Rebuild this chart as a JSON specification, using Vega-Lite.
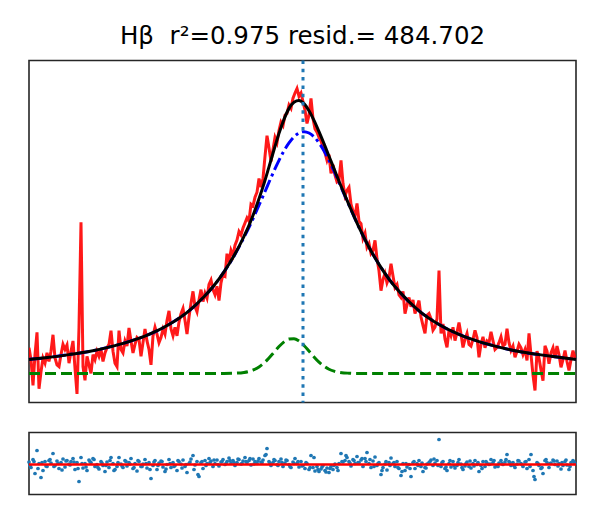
{
"$schema":"https://vega.github.io/schema/vega-lite/v6.json",
"padding":{"left":22,"top":23.5,"right":23,"bottom":31},
"title":{"text":"Hβ\u00a0\u00a0r²=0.975 resid.= 484.702","font":"DejaVu Sans","fontSize":24.5,"fontWeight":"normal","color":"#000000","anchor":"middle","offset":8.5},
"config":{"view":{"stroke":"#262626","strokeWidth":1.6},"concat":{"spacing":26},"axis":{"disable":true}},
"spacing":26,
"datasets":{
"spec":[
{"x":30,"f":16.0,"r":2.5},{"x":32,"f":12.5,"r":-3.0},{"x":34,"f":5.0,"r":5.0},{"x":36,"f":14.0,"r":-9.0},{"x":38,"f":20.5,"r":14.0},{"x":40,"f":4.0,"r":1.0},{"x":42,"f":9.0,"r":-13.0},{"x":44,"f":13.0,"r":-6.0},{"x":46,"f":11.5,"r":3.0},{"x":48,"f":14.5,"r":-2.0},
{"x":50,"f":12.0,"r":4.0},{"x":52,"f":15.0,"r":1.5},{"x":54,"f":19.8,"r":11.0},{"x":56,"f":13.0,"r":-1.0},{"x":58,"f":11.0,"r":3.5},{"x":60,"f":10.5,"r":-4.0},{"x":62,"f":14.0,"r":2.0},{"x":64,"f":17.0,"r":5.5},{"x":66,"f":15.5,"r":-2.5},{"x":68,"f":16.8,"r":4.0},
{"x":70,"f":11.5,"r":0.5},{"x":72,"f":15.0,"r":3.0},{"x":74,"f":18.0,"r":6.0},{"x":76,"f":10.0,"r":-5.0},{"x":78,"f":2.5,"r":2.0},{"x":80,"f":22.0,"r":-17.0},{"x":82,"f":52.7,"r":7.0},{"x":84,"f":10.5,"r":-3.5},{"x":86,"f":6.5,"r":1.0},{"x":88,"f":13.5,"r":-6.0},
{"x":90,"f":11.0,"r":4.5},{"x":92,"f":8.5,"r":2.0},{"x":94,"f":14.0,"r":6.0},{"x":96,"f":12.5,"r":-2.0},{"x":98,"f":15.0,"r":0.0},{"x":100,"f":13.5,"r":-4.5},{"x":102,"f":15.5,"r":3.0},{"x":104,"f":12.0,"r":-1.0},{"x":106,"f":14.5,"r":-7.0},{"x":108,"f":16.0,"r":2.5},
{"x":110,"f":17.0,"r":-3.0},{"x":112,"f":21.0,"r":7.0},{"x":114,"f":15.0,"r":1.0},{"x":116,"f":11.5,"r":-5.0},{"x":118,"f":10.5,"r":-2.0},{"x":120,"f":21.0,"r":7.0},{"x":122,"f":15.5,"r":0.5},{"x":124,"f":14.5,"r":-3.0},{"x":126,"f":18.0,"r":4.0},{"x":128,"f":16.5,"r":-1.5},
{"x":130,"f":21.8,"r":2.0},{"x":132,"f":18.0,"r":6.0},{"x":134,"f":14.5,"r":-4.0},{"x":136,"f":17.0,"r":1.0},{"x":138,"f":19.0,"r":-6.5},{"x":140,"f":18.5,"r":3.0},{"x":142,"f":13.5,"r":-2.0},{"x":144,"f":17.5,"r":0.5},{"x":146,"f":21.5,"r":5.0},{"x":148,"f":18.0,"r":-3.5},
{"x":150,"f":15.5,"r":2.0},{"x":152,"f":11.0,"r":-14.0},{"x":154,"f":19.5,"r":-1.0},{"x":156,"f":22.0,"r":4.0},{"x":158,"f":20.0,"r":-5.0},{"x":160,"f":17.5,"r":1.5},{"x":162,"f":19.0,"r":3.5},{"x":164,"f":21.5,"r":-2.5},{"x":166,"f":20.0,"r":-7.0},{"x":168,"f":24.0,"r":0.0},
{"x":170,"f":26.8,"r":5.0},{"x":172,"f":21.5,"r":-3.0},{"x":174,"f":19.5,"r":2.0},{"x":176,"f":22.0,"r":-1.0},{"x":178,"f":19.5,"r":-6.0},{"x":180,"f":23.5,"r":3.0},{"x":182,"f":26.0,"r":0.5},{"x":184,"f":27.5,"r":4.5},{"x":186,"f":24.0,"r":-2.0},{"x":188,"f":20.0,"r":-8.0},
{"x":190,"f":25.0,"r":1.0},{"x":192,"f":29.0,"r":5.5},{"x":194,"f":32.5,"r":9.0},{"x":196,"f":28.0,"r":-0.5},{"x":198,"f":26.5,"r":3.0},{"x":200,"f":30.0,"r":-12.0},{"x":202,"f":33.0,"r":2.0},{"x":204,"f":29.5,"r":-4.0},{"x":206,"f":32.0,"r":4.0},{"x":208,"f":30.5,"r":1.0},
{"x":210,"f":34.5,"r":6.0},{"x":212,"f":35.8,"r":3.5},{"x":214,"f":33.0,"r":-2.0},{"x":216,"f":31.5,"r":1.0},{"x":218,"f":34.0,"r":4.5},{"x":220,"f":29.8,"r":-1.5},{"x":222,"f":35.0,"r":2.5},{"x":224,"f":37.5,"r":5.0},{"x":226,"f":37.0,"r":0.0},{"x":228,"f":43.5,"r":3.0},
{"x":230,"f":41.0,"r":6.5},{"x":232,"f":44.5,"r":1.5},{"x":234,"f":43.0,"r":4.0},{"x":236,"f":46.0,"r":-1.0},{"x":238,"f":47.5,"r":2.0},{"x":240,"f":50.0,"r":5.0},{"x":242,"f":49.0,"r":0.5},{"x":244,"f":51.0,"r":3.5},{"x":246,"f":52.5,"r":7.0},{"x":248,"f":54.0,"r":2.0},
{"x":250,"f":53.0,"r":4.0},{"x":252,"f":58.0,"r":-0.5},{"x":254,"f":57.5,"r":5.5},{"x":256,"f":60.0,"r":3.0},{"x":258,"f":61.5,"r":1.0},{"x":260,"f":65.5,"r":6.0},{"x":262,"f":63.0,"r":2.5},{"x":264,"f":65.5,"r":4.5},{"x":266,"f":72.0,"r":9.0},{"x":268,"f":78.0,"r":16.0},
{"x":270,"f":74.5,"r":3.0},{"x":272,"f":70.5,"r":-1.0},{"x":274,"f":74.0,"r":2.0},{"x":276,"f":77.5,"r":4.0},{"x":278,"f":76.0,"r":0.0},{"x":280,"f":79.5,"r":3.0},{"x":282,"f":82.0,"r":5.5},{"x":284,"f":81.0,"r":-2.0},{"x":286,"f":84.0,"r":1.5},{"x":288,"f":84.5,"r":4.0},
{"x":290,"f":87.0,"r":0.0},{"x":292,"f":86.0,"r":-3.0},{"x":294,"f":89.0,"r":2.5},{"x":296,"f":90.5,"r":6.0},{"x":298,"f":91.8,"r":1.0},{"x":300,"f":89.5,"r":-2.5},{"x":302,"f":90.5,"r":3.0},{"x":304,"f":88.0,"r":-1.0},{"x":306,"f":85.5,"r":-4.0},{"x":308,"f":81.6,"r":1.0},
{"x":310,"f":84.0,"r":-5.0},{"x":312,"f":88.9,"r":9.0},{"x":314,"f":83.0,"r":-3.0},{"x":316,"f":80.0,"r":-6.5},{"x":318,"f":79.0,"r":-2.0},{"x":320,"f":77.5,"r":-7.0},{"x":322,"f":76.5,"r":-4.5},{"x":324,"f":74.5,"r":-1.0},{"x":326,"f":73.0,"r":-6.0},{"x":328,"f":70.8,"r":-3.5},
{"x":330,"f":72.5,"r":-8.0},{"x":332,"f":67.0,"r":-2.0},{"x":334,"f":69.5,"r":-5.0},{"x":336,"f":66.5,"r":0.5},{"x":338,"f":64.5,"r":-3.0},{"x":340,"f":65.0,"r":1.0},{"x":342,"f":70.8,"r":11.0},{"x":344,"f":64.0,"r":2.5},{"x":346,"f":60.5,"r":4.0},{"x":348,"f":62.0,"r":7.0},
{"x":350,"f":62.9,"r":3.0},{"x":352,"f":58.0,"r":-1.5},{"x":354,"f":56.0,"r":5.0},{"x":356,"f":54.5,"r":1.0},{"x":358,"f":58.2,"r":8.0},{"x":360,"f":53.0,"r":2.0},{"x":362,"f":52.3,"r":4.5},{"x":364,"f":48.0,"r":-2.0},{"x":366,"f":49.5,"r":6.0},{"x":368,"f":45.4,"r":12.0},
{"x":370,"f":46.5,"r":1.0},{"x":372,"f":43.6,"r":-3.0},{"x":374,"f":44.5,"r":3.5},{"x":376,"f":47.4,"r":7.5},{"x":378,"f":42.0,"r":-1.0},{"x":380,"f":38.5,"r":2.0},{"x":382,"f":32.7,"r":-10.0},{"x":384,"f":36.0,"r":-3.0},{"x":386,"f":37.7,"r":0.5},{"x":388,"f":35.0,"r":-5.5},
{"x":390,"f":36.5,"r":2.0},{"x":392,"f":40.6,"r":6.5},{"x":394,"f":37.0,"r":1.0},{"x":396,"f":33.6,"r":-2.0},{"x":398,"f":34.5,"r":3.0},{"x":400,"f":31.5,"r":-4.0},{"x":402,"f":30.7,"r":-11.0},{"x":404,"f":32.5,"r":1.0},{"x":406,"f":26.0,"r":-6.0},{"x":408,"f":28.5,"r":-2.5},
{"x":410,"f":30.7,"r":0.0},{"x":412,"f":28.0,"r":-12.0},{"x":414,"f":30.0,"r":2.0},{"x":416,"f":26.0,"r":-4.0},{"x":418,"f":28.0,"r":1.0},{"x":420,"f":29.8,"r":4.0},{"x":422,"f":25.0,"r":-2.0},{"x":424,"f":22.5,"r":-7.0},{"x":426,"f":20.2,"r":-3.0},{"x":428,"f":25.5,"r":0.5},
{"x":430,"f":26.0,"r":2.0},{"x":432,"f":24.5,"r":4.5},{"x":434,"f":21.1,"r":-1.0},{"x":436,"f":22.0,"r":1.5},{"x":438,"f":24.5,"r":4.0},{"x":440,"f":38.6,"r":25.0},{"x":442,"f":20.2,"r":-2.0},{"x":444,"f":23.0,"r":3.0},{"x":446,"f":18.5,"r":-4.0},{"x":448,"f":16.1,"r":-6.0},
{"x":450,"f":21.1,"r":1.0},{"x":452,"f":19.5,"r":-2.5},{"x":454,"f":22.0,"r":3.0},{"x":456,"f":18.1,"r":-3.5},{"x":458,"f":20.5,"r":-1.0},{"x":460,"f":23.4,"r":5.0},{"x":462,"f":20.0,"r":0.5},{"x":464,"f":16.1,"r":-5.0},{"x":466,"f":18.5,"r":-1.5},{"x":468,"f":20.2,"r":2.5},
{"x":470,"f":17.0,"r":-2.0},{"x":472,"f":16.5,"r":-3.5},{"x":474,"f":18.5,"r":1.0},{"x":476,"f":21.1,"r":4.0},{"x":478,"f":19.0,"r":0.0},{"x":480,"f":13.2,"r":-7.0},{"x":482,"f":17.0,"r":-1.0},{"x":484,"f":19.2,"r":3.0},{"x":486,"f":16.0,"r":-2.0},{"x":488,"f":18.0,"r":1.5},
{"x":490,"f":17.5,"r":0.0},{"x":492,"f":20.7,"r":5.0},{"x":494,"f":18.0,"r":2.0},{"x":496,"f":15.5,"r":-2.5},{"x":498,"f":16.1,"r":-1.0},{"x":500,"f":17.5,"r":1.5},{"x":502,"f":19.2,"r":4.0},{"x":504,"f":16.5,"r":0.0},{"x":506,"f":17.0,"r":2.5},{"x":508,"f":21.6,"r":10.0},
{"x":510,"f":17.5,"r":3.0},{"x":512,"f":15.2,"r":-1.0},{"x":514,"f":16.5,"r":2.0},{"x":516,"f":13.2,"r":-3.0},{"x":518,"f":15.0,"r":0.5},{"x":520,"f":17.0,"r":3.5},{"x":522,"f":16.0,"r":1.0},{"x":524,"f":14.0,"r":-2.0},{"x":526,"f":15.5,"r":2.5},{"x":528,"f":12.3,"r":-4.0},
{"x":530,"f":20.2,"r":5.0},{"x":532,"f":14.0,"r":10.0},{"x":534,"f":8.0,"r":-6.0},{"x":536,"f":3.5,"r":-15.0},{"x":538,"f":15.0,"r":2.0},{"x":540,"f":13.0,"r":-1.0},{"x":542,"f":9.5,"r":-4.0},{"x":544,"f":6.4,"r":-9.0},{"x":546,"f":16.6,"r":4.0},{"x":548,"f":15.0,"r":2.0},
{"x":550,"f":11.3,"r":-3.0},{"x":552,"f":14.5,"r":1.5},{"x":554,"f":16.0,"r":4.5},{"x":556,"f":13.0,"r":0.0},{"x":558,"f":16.5,"r":3.5},{"x":560,"f":14.0,"r":1.0},{"x":562,"f":10.3,"r":-4.5},{"x":564,"f":12.5,"r":-1.0},{"x":566,"f":15.2,"r":3.0},{"x":568,"f":12.0,"r":-0.5},
{"x":570,"f":9.4,"r":-5.0},{"x":572,"f":12.5,"r":2.0},{"x":574,"f":15.2,"r":4.0},{"x":576,"f":13.0,"r":1.0}
],
"res2":[
{"x":31,"r":-1.0},{"x":35,"r":3.0},{"x":39,"r":-4.0},{"x":43,"r":2.0},{"x":47,"r":-1.5},{"x":51,"r":5.0},{"x":55,"r":-2.0},{"x":59,"r":1.0},{"x":63,"r":-5.5},{"x":67,"r":3.5},
{"x":71,"r":-0.5},{"x":75,"r":2.5},{"x":79,"r":-4.0},{"x":83,"r":1.0},{"x":87,"r":-2.5},{"x":91,"r":3.0},{"x":95,"r":5.0},{"x":99,"r":-3.0},{"x":103,"r":1.5},{"x":107,"r":-1.0},
{"x":111,"r":4.0},{"x":115,"r":-6.0},{"x":119,"r":2.0},{"x":123,"r":-1.5},{"x":127,"r":3.0},{"x":131,"r":0.5},{"x":135,"r":-3.0},{"x":139,"r":4.0},{"x":143,"r":-2.0},{"x":147,"r":1.0},
{"x":151,"r":-5.0},{"x":155,"r":2.5},{"x":159,"r":-1.0},{"x":163,"r":3.0},{"x":167,"r":-4.5},{"x":171,"r":1.0},{"x":175,"r":-2.0},{"x":179,"r":4.0},{"x":183,"r":-3.5},{"x":187,"r":0.0},
{"x":191,"r":2.5},{"x":195,"r":-5.0},{"x":199,"r":-10.0},{"x":203,"r":3.0},{"x":207,"r":-1.0},{"x":211,"r":2.0},{"x":215,"r":4.5},{"x":219,"r":0.0},{"x":223,"r":3.0},{"x":227,"r":1.0},
{"x":231,"r":4.0},{"x":235,"r":2.0},{"x":239,"r":5.5},{"x":243,"r":1.0},{"x":247,"r":3.0},{"x":251,"r":6.0},{"x":255,"r":0.5},{"x":259,"r":3.5},{"x":263,"r":2.0},{"x":267,"r":10.0},
{"x":271,"r":1.5},{"x":275,"r":5.0},{"x":279,"r":-1.0},{"x":283,"r":2.0},{"x":287,"r":4.5},{"x":291,"r":-2.0},{"x":295,"r":1.0},{"x":299,"r":3.0},{"x":303,"r":-1.5},{"x":307,"r":2.0},
{"x":311,"r":-3.0},{"x":315,"r":7.0},{"x":319,"r":-5.0},{"x":323,"r":-2.5},{"x":327,"r":-7.5},{"x":331,"r":-4.0},{"x":335,"r":-1.0},{"x":339,"r":-6.0},{"x":343,"r":3.0},{"x":347,"r":9.0},
{"x":351,"r":1.5},{"x":355,"r":4.0},{"x":359,"r":2.0},{"x":363,"r":6.0},{"x":367,"r":3.0},{"x":371,"r":5.0},{"x":375,"r":-2.0},{"x":379,"r":1.0},{"x":383,"r":-6.0},{"x":387,"r":3.0},
{"x":391,"r":-1.0},{"x":395,"r":2.0},{"x":399,"r":-3.0},{"x":403,"r":-7.0},{"x":407,"r":1.0},{"x":411,"r":-4.0},{"x":415,"r":3.0},{"x":419,"r":-1.0},{"x":423,"r":1.5},{"x":427,"r":-3.5},
{"x":431,"r":3.0},{"x":435,"r":5.5},{"x":439,"r":-1.0},{"x":443,"r":2.0},{"x":447,"r":-2.5},{"x":451,"r":4.0},{"x":455,"r":-1.0},{"x":459,"r":2.0},{"x":463,"r":-3.0},{"x":467,"r":1.0},
{"x":471,"r":3.5},{"x":475,"r":-1.5},{"x":479,"r":2.0},{"x":483,"r":-4.0},{"x":487,"r":3.0},{"x":491,"r":0.5},{"x":495,"r":4.0},{"x":499,"r":-2.0},{"x":503,"r":1.0},{"x":507,"r":5.0},
{"x":511,"r":2.0},{"x":515,"r":-1.0},{"x":519,"r":4.0},{"x":523,"r":0.0},{"x":527,"r":3.0},{"x":531,"r":-2.0},{"x":535,"r":-12.0},{"x":539,"r":1.0},{"x":543,"r":-3.0},{"x":547,"r":5.0},
{"x":551,"r":1.0},{"x":555,"r":3.5},{"x":559,"r":-1.5},{"x":563,"r":2.0},{"x":567,"r":4.5},{"x":571,"r":-2.0},{"x":575,"r":2.5}
],
"fit":[
{"x":30,"k":12.6,"b":12.6,"g":8.5},{"x":50,"k":13.2,"b":13.2,"g":8.5},{"x":70,"k":14.0,"b":14.0,"g":8.5},{"x":90,"k":14.9,"b":14.9,"g":8.5},{"x":110,"k":16.2,"b":16.2,"g":8.5},{"x":130,"k":17.8,"b":17.8,"g":8.5},{"x":150,"k":19.9,"b":19.9,"g":8.5},{"x":170,"k":22.8,"b":22.8,"g":8.5},{"x":190,"k":26.8,"b":26.8,"g":8.5},{"x":205,"k":30.9,"b":30.9,"g":8.5},{"x":215,"k":34.2,"b":34.2,"g":8.5},{"x":225,"k":38.2,"b":38.2,"g":8.5},{"x":235,"k":42.9,"b":42.8,"g":8.56},{"x":245,"k":48.6,"b":48.3,"g":8.79},{"x":250,"k":51.8,"b":51.2,"g":9.09},{"x":255,"k":55.5,"b":54.4,"g":9.6},{"x":260,"k":59.6,"b":57.7,"g":10.4},{"x":265,"k":64.0,"b":61.0,"g":11.54},{"x":270,"k":68.9,"b":64.4,"g":13.01},{"x":275,"k":73.9,"b":67.7,"g":14.69},{"x":280,"k":78.7,"b":70.8,"g":16.36},{"x":285,"k":82.8,"b":73.6,"g":17.74},{"x":290,"k":86.0,"b":75.9,"g":18.56},{"x":295,"k":87.8,"b":77.7,"g":18.64},{"x":300,"k":88.3,"b":78.8,"g":17.96},{"x":305,"k":87.4,"b":79.2,"g":16.67},{"x":310,"k":85.3,"b":78.8,"g":15.03},{"x":315,"k":82.5,"b":77.7,"g":13.33},{"x":320,"k":79.2,"b":75.9,"g":11.81},{"x":325,"k":75.7,"b":73.6,"g":10.6},{"x":330,"k":72.0,"b":70.8,"g":9.73},{"x":335,"k":68.4,"b":67.7,"g":9.17},{"x":340,"k":64.7,"b":64.4,"g":8.84},{"x":345,"k":61.2,"b":61.0,"g":8.66},{"x":350,"k":57.8,"b":57.7,"g":8.57},{"x":355,"k":54.4,"b":54.4,"g":8.5},{"x":360,"k":51.2,"b":51.2,"g":8.5},{"x":370,"k":45.4,"b":45.4,"g":8.5},{"x":380,"k":40.4,"b":40.4,"g":8.5},{"x":390,"k":36.1,"b":36.1,"g":8.5},{"x":400,"k":32.5,"b":32.5,"g":8.5},{"x":420,"k":26.8,"b":26.8,"g":8.5},{"x":440,"k":22.8,"b":22.8,"g":8.5},{"x":460,"k":19.9,"b":19.9,"g":8.5},{"x":480,"k":17.8,"b":17.8,"g":8.5},{"x":500,"k":16.2,"b":16.2,"g":8.5},{"x":520,"k":14.9,"b":14.9,"g":8.5},{"x":540,"k":14.0,"b":14.0,"g":8.5},{"x":560,"k":13.2,"b":13.2,"g":8.5},{"x":577,"k":12.6,"b":12.6,"g":8.5}
],
"center":[{"x":304}],
"zero":[{"y":0}]
},
"vconcat":[
{"width":547,"height":342,
"layer":[
{"data":{"name":"spec"},"mark":{"type":"line","color":"#ff0000","opacity":0.9,"strokeWidth":3,"clip":true},
"encoding":{"x":{"field":"x","type":"quantitative","scale":{"domain":[30,577],"nice":false,"zero":false},"axis":null},"y":{"field":"f","type":"quantitative","scale":{"domain":[0,100],"nice":false,"zero":false},"axis":null}}},
{"data":{"name":"fit"},"mark":{"type":"line","color":"#0000ff","strokeWidth":3,"strokeDash":[13,4,3,4],"interpolate":"monotone"},
"encoding":{"x":{"field":"x","type":"quantitative","axis":null},"y":{"field":"b","type":"quantitative","axis":null}}},
{"data":{"name":"fit"},"mark":{"type":"line","color":"#008000","strokeWidth":3,"strokeDash":[11,5],"interpolate":"monotone"},
"encoding":{"x":{"field":"x","type":"quantitative","axis":null},"y":{"field":"g","type":"quantitative","axis":null}}},
{"data":{"name":"fit"},"mark":{"type":"line","color":"#000000","strokeWidth":3,"interpolate":"monotone"},
"encoding":{"x":{"field":"x","type":"quantitative","axis":null},"y":{"field":"k","type":"quantitative","axis":null}}},
{"data":{"name":"center"},"mark":{"type":"rule","color":"#1f77b4","strokeWidth":3,"strokeDash":[3.5,4.8]},
"encoding":{"x":{"field":"x","type":"quantitative","axis":null}}}
]},
{"width":547,"height":62,
"layer":[
{"data":{"name":"spec"},"mark":{"type":"circle","color":"#1f77b4","size":14,"opacity":1},
"encoding":{"x":{"field":"x","type":"quantitative","scale":{"domain":[30,577],"nice":false,"zero":false},"axis":null},"y":{"field":"r","type":"quantitative","scale":{"domain":[-30,32],"nice":false,"zero":false},"axis":null}}},
{"data":{"name":"res2"},"mark":{"type":"circle","color":"#1f77b4","size":14,"opacity":1},
"encoding":{"x":{"field":"x","type":"quantitative","axis":null},"y":{"field":"r","type":"quantitative","axis":null}}},
{"data":{"name":"zero"},"mark":{"type":"rule","color":"#ff0000","strokeWidth":2.5},
"encoding":{"y":{"field":"y","type":"quantitative","axis":null}}}
]}
]
}
